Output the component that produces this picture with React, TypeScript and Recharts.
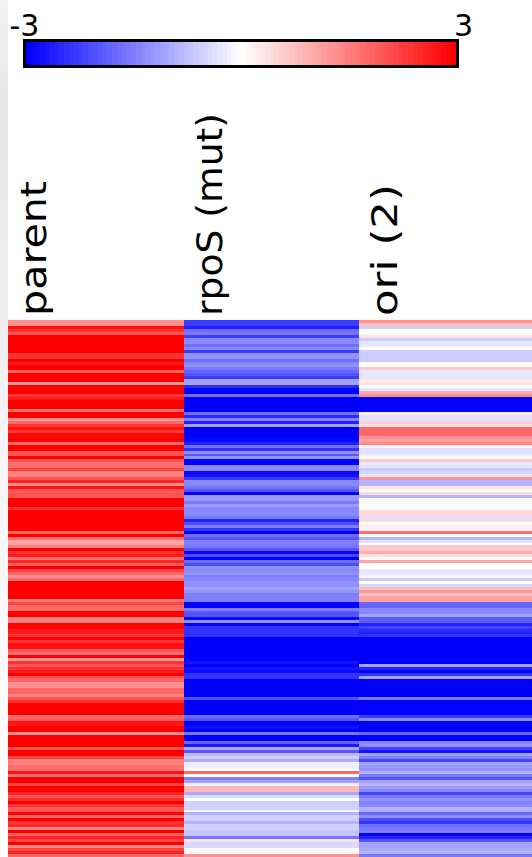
import React from 'react';
import { BarChart, Bar, Cell, XAxis, YAxis } from 'recharts';

const columnLabels = ['parent', 'rpoS (mut)', 'ori (2)'];
const columnWidths = [176, 175, 173];
const columnStarts = [0, 176, 351];

const parentValues = [
  1.3, 1.3, 2.8, 2.4, 2.0, 3, 3, 3, 3, 3,
  3, 2.4, 2.4, 3, 2.7, 3, 3, 1.9, 3, 3,
  3, 1.3, 3, 3, 3, 2.4, 2.7, 3, 3, 3,
  1.7, 3, 3, 1.3, 1.8, 2.4, 2.8, 2.4, 2.9, 2.9,
  3, 1.7, 3, 3, 2.0, 2.0, 3, 2.0, 1.7, 1.7,
  2.2, 1.5, 1.5, 2.0, 2.6, 1.3, 2.8, 2.0, 2.0, 2.0,
  3, 3, 3, 2.4, 3, 3, 3, 3, 3, 3,
  3, 1.8, 3, 1.7, 1.1, 1.1, 1.5, 3, 2.4, 2.7,
  1.7, 2.6, 1.9, 3, 2.2, 1.8, 1.3, 1.8, 3, 3,
  3, 3, 3, 3, 1.5, 2.2, 1.8, 1.8, 3, 3,
  1.5, 1.5, 3, 3, 2.7, 2.7, 2.4, 3, 2.4, 2.8,
  2.8, 2.0, 1.7, 3, 1.3, 2.4, 2.0, 2.4, 2.7, 3,
  2.0, 1.8, 1.3, 1.3, 1.8, 1.8, 1.5, 2.0, 2.5, 3,
  3, 3, 3, 1.7, 2.0, 2.8, 2.7, 3, 3, 1.3,
  3, 3, 3, 3, 2.0, 3, 3, 2.2, 1.5, 1.5,
  1.7, 1.7, 2.8, 1.7, 3, 3, 2.2, 3, 3, 2.6,
  2.0, 2.5, 3, 2.4, 2.0, 2.0, 3, 1.8, 3, 2.4,
  2.5, 1.4, 3, 1.8, 2.6, 2.2, 3, 1.4, 2.2, 2.6, 1.8,
];

const rpoSValues = [
  -2.3, -2.3, -2.6, -1.7, -1.6, -2.3, -1.4, -1.4, -1.7, -1.4,
  -2.3, -1.3, -1.3, -1.7, -1.4, -1.3, -1.6, -1.8, -2.0, -2.3,
  -1.1, -1.1, -2.5, -3, -3, -1.7, -3, -3, -3, -3,
  -3, -1.7, -2.5, -1.5, -2.6, -1.1, -3, -3, -3, -3,
  -2.9, -2.6, -1.7, -2.4, -1.3, -2.0, -1.3, -3, -3, -1.4,
  -1.4, -2.9, -2.8, -2.3, -1.4, -1.4, -1.6, -2.0, -3, -1.2,
  -1.2, -1.6, -1.2, -1.4, -1.4, -1.4, -1.6, -2.6, -2.1, -1.5,
  -2.4, -3, -1.7, -2.0, -1.5, -1.5, -1.6, -2.0, -2.9, -2.1,
  -3, -1.7, -2.1, -1.3, -1.4, -1.3, -1.5, -1.4, -1.3, -1.3,
  -1.1, -1.3, -1.5, -1.5, -1.5, -3, -3, -1.5, -2.0, -2.0,
  -2.9, -1.3, -3, -2.4, -2.4, -2.4, -2.4, -3, -3, -3,
  -3, -3, -3, -3, -3, -2.8, -3, -2.8, -2.9, -2.4,
  -2.4, -3, -3, -3, -3, -3, -3, -2.0, -3, -3,
  -3, -3, -3, -1.7, -2.0, -3, -3, -2.8, -3, -1.6,
  -3, -3, -1.8, -2.7, -1.0, -2.0, -0.8, -0.6, -1.0, -0.2,
  -0.2, 0, 1.8, 0, -1.5, -1.1, -0.2, 0.85, 0.85, -1.0,
  -0.4, 0, -0.55, -0.55, -0.55, 0.1, -0.9, -0.55, -0.55, -0.9,
  -0.55, -0.55, -0.7, -0.7, -1.6, 0.35, -0.45, -0.45, 0.05, 0.05, 1.3,
];

const oriValues = [
  1.3, 0.75, -0.6, 0, 0, 0.35, -0.6, -0.3, -0.3, 0,
  -0.6, -0.6, -0.6, -0.6, 0, 0, 0.65, -0.3, -0.3, -0.3,
  0.25, 0.35, 0, -0.3, 0.95, 1.3, -3, -3, -3, -3,
  -3, 0.25, -0.35, -0.35, 0.55, 0.35, 1.8, 1.8, 1.8, 1.3,
  1.1, 1.4, 0.1, -0.35, -0.35, -0.2, -0.1, 0.65, -0.3, -0.3,
  -0.6, -0.5, -0.3, 1.3, -0.9, -0.9, 0.35, 0, 0.45, -0.9,
  0, 0.1, 0, 0, 0.45, 0.45, -0.35, 0.45, 0, 0.2,
  0.2, 1.7, 0, -0.9, -0.35, 0, 0.65, 0.65, 0.95, 0.35,
  0.1, 1.1, 0, 0, -0.3, -0.3, 0.1, -0.6, 0, -0.5,
  0.75, 1.2, 0.75, 1.1, 1.1, -1.8, -1.8, -1.4, -1.4, -1.1,
  -1.9, -1.9, -2.6, -2.2, -2.5, -2.6, -2.4, -3, -3, -3,
  -3, -3, -3, -3, -3, -3, -1.1, -2.6, -3, -2.4,
  -1.1, -3, -3, -3, -3, -3, -3, -1.6, -3, -3,
  -3, -3, -3, -2.3, -1.4, -3, -3, -3, -3, -1.8,
  -3, -3, -1.4, -1.3, -2.2, -2.8, -1.1, -1.5, -2.2, -1.1,
  -1.2, -1.3, -0.9, -1.6, -2.0, -1.1, -0.85, -1.2, -1.4, -2.2,
  -1.6, -1.3, -1.5, -1.4, -0.9, -1.0, -1.8, -1.3, -2.1, -2.4,
  -1.7, -1.6, -1.5, -3, -2.6, -2.0, -1.1, -1.1, -1.0, -0.9, -1.6,
];

// one entry per step of the colour key
const keyLevels = [
  -3.0, -2.93, -2.87, -2.8, -2.73, -2.66, -2.6, -2.53, -2.46, -2.39,
  -2.33, -2.26, -2.19, -2.12, -2.06, -1.99, -1.92, -1.85, -1.79, -1.72,
  -1.65, -1.58, -1.52, -1.45, -1.38, -1.31, -1.25, -1.18, -1.11, -1.04,
  -0.98, -0.91, -0.84, -0.78, -0.71, -0.64, -0.57, -0.51, -0.44, -0.37,
  -0.3, -0.24, -0.17, -0.1, -0.03, 0.03, 0.1, 0.17, 0.24, 0.3,
  0.37, 0.44, 0.51, 0.57, 0.64, 0.71, 0.78, 0.84, 0.91, 0.98,
  1.04, 1.11, 1.18, 1.25, 1.31, 1.38, 1.45, 1.52, 1.58, 1.65,
  1.72, 1.79, 1.85, 1.92, 1.99, 2.06, 2.12, 2.19, 2.26, 2.33,
  2.39, 2.46, 2.53, 2.6, 2.66, 2.73, 2.8, 2.87, 2.93, 3.0,
];
const keyTicks = [-3, 3];

const heatColor = (v: number) => {
  const c = Math.round(255 * (1 - Math.min(Math.abs(v), 3) / 3));
  return v >= 0 ? `rgb(255,${c},${c})` : `rgb(${c},${c},255)`;
};

const rows = parentValues.map((_, i) => ({
  row: i,
  parentSpan: columnWidths[0],
  rpoSSpan: columnWidths[1],
  oriSpan: columnWidths[2],
}));
const keyRows = keyLevels.map((level) => ({ level, step: 1 }));

const FONT = '"DejaVu Sans", sans-serif';

const ColumnTick = ({ x, payload }: any) => {
  const index = columnStarts.indexOf(payload.value);
  const lengths = [135, 203, 132];
  const px = x + 38;
  const py = 316;
  return (
    <text
      x={px}
      y={py}
      transform={`rotate(-90 ${px} ${py})`}
      fontFamily={FONT}
      fontSize={35}
      textLength={lengths[index]}
      lengthAdjust="spacingAndGlyphs"
      textAnchor="start"
      fill="#000"
    >
      {columnLabels[index]}
    </text>
  );
};

const KeyTick = ({ x, payload }: any) => (
  <text
    x={payload.value < 0 ? x - 4 : x + 10}
    y={36}
    textAnchor="middle"
    fontFamily={FONT}
    fontSize={30}
    fill="#000"
  >
    {payload.value}
  </text>
);

const series = [
  { key: 'parentSpan', values: parentValues },
  { key: 'rpoSSpan', values: rpoSValues },
  { key: 'oriSpan', values: oriValues },
];

export default function App() {
  return (
    <div style={{ position: 'absolute', left: 0, top: 0, width: 532, height: 857, overflow: 'hidden', background: '#fff', shapeRendering: 'crispEdges' }}>
      <div
        style={{
          position: 'absolute',
          left: 0,
          top: 0,
          width: 8,
          height: 857,
          background: 'linear-gradient(to bottom, #f2f2f2 0px, #e6e6e6 110px, #efefef 320px, #f6f6f6 500px, #fdfdfd 857px)',
        }}
      />
      <div style={{ position: 'absolute', left: 0, top: 0 }}>
        <BarChart
          width={532}
          height={857}
          data={rows}
          layout="vertical"
          margin={{ top: 300, right: 0, bottom: 0, left: 8 }}
          barCategoryGap={0}
          barGap={0}
        >
          <XAxis
            type="number"
            orientation="top"
            domain={[0, 524]}
            ticks={columnStarts}
            interval={0}
            height={20}
            axisLine={false}
            tickLine={false}
            tick={<ColumnTick />}
          />
          <YAxis type="category" dataKey="row" hide />
          {series.map((s) => (
            <Bar key={s.key} dataKey={s.key} stackId="heat" isAnimationActive={false}>
              {s.values.map((v, i) => (
                <Cell key={i} fill={heatColor(v)} />
              ))}
            </Bar>
          ))}
        </BarChart>
      </div>
      <div style={{ position: 'absolute', left: 23, top: 39, width: 430, height: 23, border: '3px solid #000' }} />
      <div style={{ position: 'absolute', left: 0, top: 0 }}>
        <BarChart
          width={532}
          height={80}
          data={keyRows}
          margin={{ top: 22, right: 76, bottom: 15, left: 26 }}
          barCategoryGap={0}
          barGap={0}
        >
          <XAxis
            dataKey="level"
            orientation="top"
            ticks={keyTicks}
            interval={0}
            height={20}
            axisLine={false}
            tickLine={false}
            tick={<KeyTick />}
          />
          <YAxis type="number" domain={[0, 1]} hide />
          <Bar dataKey="step" isAnimationActive={false}>
            {keyLevels.map((v, i) => (
              <Cell key={i} fill={heatColor(v)} />
            ))}
          </Bar>
        </BarChart>
      </div>
    </div>
  );
}
